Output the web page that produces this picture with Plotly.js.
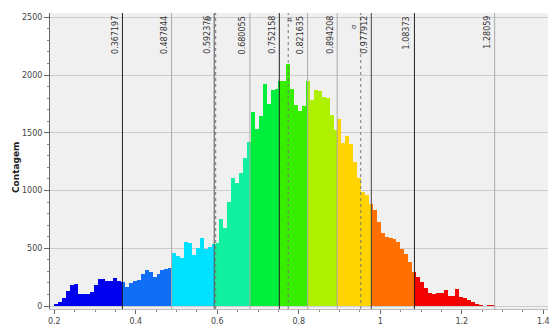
<!DOCTYPE html>
<html>
<head>
<meta charset="utf-8">
<script src="https://cdn.plot.ly/plotly-3.0.1.min.js"></script>
<style>
  html, body { margin: 0; padding: 0; background: #ffffff; }
  #chart { width: 554px; height: 328px; }
</style>
</head>
<body>
<div id="chart"></div>
<script>
// ---- data ----
const binStart = 0.2;
const binWidth = 0.00965;
const counts = [15, 38, 68, 130, 186, 190, 102, 100, 106, 120,
  180, 236, 238, 214, 214, 240, 219, 211, 168, 200,
  218, 222, 278, 312, 292, 250, 275, 315, 324, 326,
  456, 433, 413, 557, 548, 442, 505, 586, 491, 508,
  540, 545, 750, 673, 900, 1106, 1062, 1150, 1279, 1417,
  1677, 1530, 1648, 1920, 1750, 1870, 1875, 1950, 1948, 2095,
  1880, 1740, 1690, 1730, 1950, 1780, 1870, 1860, 1810, 1800,
  1650, 1524, 1619, 1409, 1475, 1400, 1250, 1106, 990, 961,
  880, 831, 725, 629, 600, 592, 580, 557, 493, 448,
  384, 297, 250, 205, 160, 115, 100, 115, 110, 135,
  85, 90, 150, 82, 66, 50, 35, 15, 6, 0,
  6, 6];
const breaks = [0.367197, 0.487844, 0.592376, 0.680055, 0.752158, 0.821635, 0.894208, 0.977912, 1.08373, 1.28059];
const breakLabels = ['0.367197', '0.487844', '0.592376', '0.680055', '0.752158', '0.821635', '0.894208', '0.977912', '1.08373', '1.28059'];
const meanValue = 0.774;
const sigmaValue = 0.178;
const xTicks = [0.2, 0.4, 0.6, 0.8, 1, 1.2, 1.4];
const xTickText = ['0.2', '0.4', '0.6', '0.8', '1', '1.2', '1.4'];
const yTicks = [0, 500, 1000, 1500, 2000, 2500];

// ---- styles ----
const classColors = ['#0000ee', '#0f6ef5', '#00e0ff', '#10f0a0', '#00ef3c', '#38ee00', '#aef000', '#ffd400', '#ff7000', '#f50000'];
const breakLineColors = ['#222', '#aaa', '#555', '#aaa', '#222', '#aaa', '#aaa', '#444', '#222', '#aaa'];

// split bins at class breaks
const classEdges = [-Infinity].concat(breaks.slice(0, -1)).concat([Infinity]);
const traces = classColors.map(c => ({type: 'bar', x: [], y: [], width: [], marker: {color: c, line: {width: 0}}, hoverinfo: 'skip', showlegend: false}));
counts.forEach((cnt, k) => {
  const a = binStart + k * binWidth, b = a + binWidth;
  for (let c = 0; c < classColors.length; c++) {
    const lo = Math.max(a, classEdges[c]), hi = Math.min(b, classEdges[c + 1]);
    if (hi > lo) {
      traces[c].x.push((lo + hi) / 2);
      traces[c].width.push(hi - lo);
      traces[c].y.push(cnt);
    }
  }
});

const shapes = [];
const annotations = [];
breaks.forEach((v, i) => {
  shapes.push({type: 'line', xref: 'x', yref: 'paper', x0: v, x1: v, y0: 0, y1: 1,
    line: {color: breakLineColors[i], width: 1}, layer: 'above'});
  annotations.push({x: v, y: 1, xref: 'x', yref: 'paper', text: breakLabels[i], textangle: -90,
    xanchor: 'right', yanchor: 'top', showarrow: false, xshift: -1, yshift: -1,
    font: {family: 'DejaVu Sans', size: 8, color: '#333'}});
});
[meanValue - sigmaValue, meanValue, meanValue + sigmaValue].forEach(v => {
  shapes.push({type: 'line', xref: 'x', yref: 'paper', x0: v, x1: v, y0: 0, y1: 1,
    line: {color: '#777', width: 1, dash: 'dot'}, layer: 'above'});
});
annotations.push({x: meanValue, y: 1, xref: 'x', yref: 'paper', text: 'μ', textangle: -90,
  xanchor: 'center', yanchor: 'top', showarrow: false, yshift: -2,
  font: {family: 'DejaVu Sans', size: 7, color: '#444'}});
annotations.push({x: meanValue + sigmaValue, y: 1, xref: 'x', yref: 'paper', text: 'σ', textangle: -90,
  xanchor: 'right', yanchor: 'top', showarrow: false, xshift: -1, yshift: -9,
  font: {family: 'DejaVu Sans', size: 7, color: '#444'}});
annotations.push({x: meanValue - sigmaValue, y: 1, xref: 'x', yref: 'paper', text: 'σ', textangle: -90,
  xanchor: 'right', yanchor: 'top', showarrow: false, xshift: -1, yshift: -1,
  font: {family: 'DejaVu Sans', size: 7, color: '#444'}});
annotations.push({x: 0, y: 0.5, xref: 'paper', yref: 'paper', text: '<b>Contagem</b>', textangle: -90,
  xanchor: 'center', yanchor: 'middle', showarrow: false, xshift: -34, yshift: -6,
  font: {family: 'DejaVu Sans', size: 9, color: '#222'}});

const layout = {
  width: 554, height: 328,
  margin: {l: 50, r: 6, t: 13, b: 19},
  paper_bgcolor: '#ffffff',
  plot_bgcolor: '#f0f0f0',
  barmode: 'overlay',
  bargap: 0,
  xaxis: {range: [0.1894, 1.4115], tickvals: xTicks, ticktext: xTickText, showgrid: false, zeroline: false,
    ticks: 'outside', ticklen: 4, tickcolor: '#666', showline: true, linecolor: '#bbb',
    minor: {dtick: 0.05, ticks: 'outside', ticklen: 2, tickcolor: '#888', showgrid: false},
    tickfont: {family: 'DejaVu Sans', size: 8, color: '#444'}},
  yaxis: {range: [-26, 2537], tickvals: yTicks, showgrid: true, gridcolor: '#cccccc', zeroline: false,
    ticks: 'outside', ticklen: 5, tickcolor: '#666', showline: true, linecolor: '#666',
    minor: {dtick: 100, ticks: 'outside', ticklen: 2, tickcolor: '#888', showgrid: false},
    tickfont: {family: 'DejaVu Sans', size: 8, color: '#444'}},
  shapes: shapes,
  annotations: annotations
};

Plotly.newPlot('chart', traces, layout, {displayModeBar: false, staticPlot: true});
</script>
</body>
</html>
